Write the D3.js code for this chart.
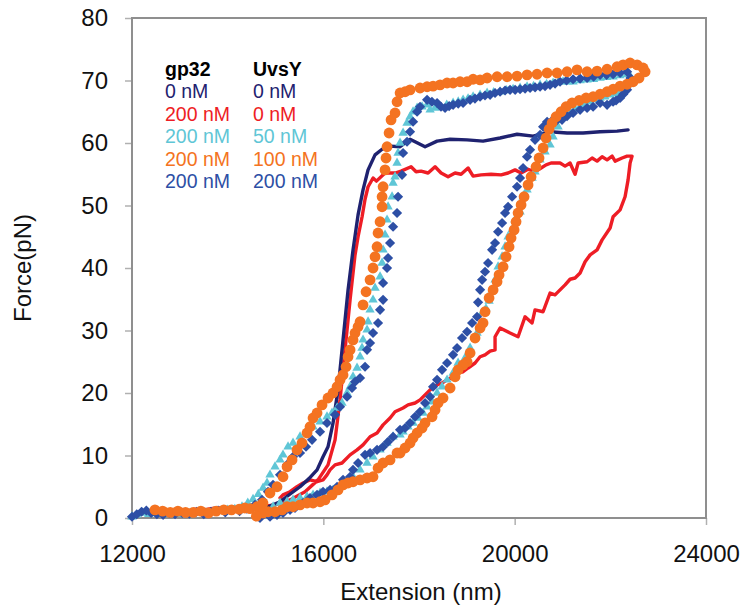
<!DOCTYPE html>
<html><head><meta charset="utf-8">
<script src="https://cdn.jsdelivr.net/npm/d3@7/dist/d3.min.js"></script>
<style>body{margin:0;background:#fff}svg{display:block}</style>
</head><body><svg id="c" width="750" height="608"></svg>
<script>
const xTicks=[12000,16000,20000,24000];
const yTicks=[0,10,20,30,40,50,60,70,80];
const xTitle="Extension (nm)";
const yTitle="Force(pN)";
const legendHeader=["gp32","UvsY"];
const gp32Conc=["0 nM","200 nM","200 nM","200 nM","200 nM"];
const uvsyConc=["0 nM","0 nM","50 nM","100 nM","200 nM"];
const seriesColors=["#1f2270","#ee1d25","#5fc6d6","#f47321","#2d4fa5"];

// gp32 0 nM / UvsY 0 nM (line)
const sNavy=[[14600,1.2],[14850,1.8],[15095,2.6],[15300,3.8],[15513,5.0],[15700,6.3],[15869,7.7],[15994,9.8],[16098,11.4],[16203,15.2],[16307,20.5],[16412,28.5],[16517,36.5],[16621,42.9],[16726,48.5],[16830,52.5],[16935,55.7],[17081,58.1],[17228,59.0],[17395,59.5],[17604,59.4],[17813,60.6],[18127,59.4],[18378,60.3],[18650,60.6],[19005,60.5],[19339,60.3],[19695,60.8],[20050,61.4],[20385,61.1],[20740,61.8],[21096,61.6],[21430,61.6],[21786,61.8],[22141,61.9],[22371,62.1]];
// gp32 200 nM / UvsY 0 nM (line)
const sRed=[[13300,1.4],[13500,1.3],[13750,1.6],[14050,1.6],[14350,1.7],[14676,1.8],[14990,2.1],[15304,2.9],[15618,4.2],[15889,6.1],[16098,8.5],[16245,12.5],[16349,18.9],[16454,26.9],[16559,34.9],[16663,42.1],[16726,45.0],[16810,48.2],[16872,51.0],[16935,53.0],[17040,54.4],[17110,53.9],[17290,55.2],[17500,55.2],[17625,55.5],[17834,56.2],[17939,55.4],[18043,55.5],[18190,55.2],[18336,56.2],[18462,55.2],[18608,54.6],[18754,55.2],[18880,55.0],[19026,56.0],[19131,54.7],[19298,54.9],[19507,55.0],[19716,54.9],[19862,55.2],[20008,55.7],[20134,55.2],[20280,55.8],[20427,55.4],[20552,56.0],[20657,56.5],[20761,56.8],[20949,56.8],[21054,56.3],[21158,56.8],[21263,55.0],[21326,56.8],[21514,57.0],[21619,57.6],[21723,57.1],[21828,57.8],[21932,57.3],[22037,57.9],[22100,57.1],[22246,57.6],[22350,57.9],[22455,57.9],
[22413,56.8],[22371,54.1],[22308,51.4],[22204,49.3],[22058,48.2],[21995,46.4],[21828,44.5],[21723,42.9],[21577,42.1],[21472,41.0],[21368,39.2],[21263,38.4],[21158,38.2],[21054,37.3],[20949,36.5],[20844,35.7],[20740,36.0],[20594,33.0],[20426,33.3],[20364,31.2],[20217,32.2],[20071,29.0],[19904,29.6],[19695,30.4],[19590,29.0],[19590,26.9],[19486,26.7],[19381,26.1],[19277,25.8],[19172,24.8],[19026,24.0],[18922,23.4],[18796,23.2],[18712,22.6],[18587,22.1],[18482,21.6],[18378,21.3],[18232,20.5],[18127,19.7],[18022,18.9],[17918,18.4],[17771,18.1],[17667,17.6],[17499,17.0],[17395,16.0],[17249,14.9],[17123,13.6],[16977,13.0],[16830,11.7],[16705,10.9],[16559,10.1],[16391,8.8],[16245,8.5],[16140,7.7],[16077,6.9],[15994,6.1],[15869,5.8],[15722,6.1],[15576,5.6],[15450,5.0],[15304,4.2],[15157,3.7],[15095,3.2]];
// gp32 200 nM / UvsY 50 nM (triangles)
const sCyan=[[12000,0.2],[12100,0.5],[12220,0.8],[12350,0.6],[12500,0.8],[12650,0.6],[12800,0.8],[12950,0.6],[13100,0.8],[13250,0.8],[13400,1.0],[13550,0.8],[13700,1.0],[13850,1.1],[14000,1.3],[14150,1.4],[14300,1.8],[14420,2.4],[14530,3.0],[14640,3.8],[14740,4.8],
[14823,5.6],[14885,6.9],[14990,8.2],[15095,9.3],[15157,10.1],[15262,11.4],[15367,12.0],[15513,13.0],[15659,14.1],[15785,14.6],[15931,15.4],[16077,16.2],[16182,16.8],[16287,17.6],[16391,18.4],[16496,20.0],[16559,21.0],[16621,22.6],[16705,24.0],[16768,25.8],[16809,27.2],[16830,28.5],[16914,30.1],[16935,31.4],[16977,33.3],[17039,34.9],[17081,36.8],[17186,38.6],[17228,40.8],[17249,42.9],[17290,45.3],[17332,47.7],[17353,49.8],[17437,51.4],[17458,53.6],[17499,54.6],[17541,56.8],[17562,58.4],[17604,60.0],[17667,61.6],[17750,63.2],[17813,64.2],[17876,65.0],[17960,65.6],[18064,65.8],[18169,66.1],
[18232,65.3],[18336,65.6],[18441,65.8],[18580,66.1],[18713,66.4],[18820,66.6],[18922,66.9],[19026,67.1],[19131,67.4],[19277,67.7],[19424,68.0],[19560,68.1],[19695,68.2],[19830,68.4],[19967,68.6],[20113,68.8],[20259,69.0],[20395,69.1],[20531,69.3],[20667,69.4],[20803,69.6],[20907,69.7],[21012,69.8],[21117,69.8],[21221,69.8],[21368,70.0],[21514,70.1],[21650,70.2],[21786,70.4],[21922,70.5],[22058,70.6],[22204,70.8],[22350,71.0],[22420,70.6],
[22350,69.3],[22270,68.6],[22204,68.2],[22100,67.9],[21995,67.7],[21890,67.4],[21786,67.2],[21680,66.9],[21577,66.6],[21470,66.2],[21368,65.8],[21263,65.4],[21158,65.0],[21012,64.2],[20907,62.6],[20803,61.0],[20740,59.7],[20635,58.6],[20531,57.3],[20426,55.4],[20364,54.4],[20259,52.5],[20176,51.4],[20113,49.0],[20008,47.7],[19946,46.1],[19862,45.0],[19799,43.4],[19737,41.8],[19653,40.2],[19590,38.1],[19528,36.5],[19465,34.7],[19400,33.5],[19319,32.8],[19214,29.6],[19068,27.2],[18963,25.6],[18817,24.8],[18712,23.2],[18587,22.1],[18482,21.0],[18378,20.0],[18273,18.6],[18169,17.8],[18085,16.8],[17980,16.0],[17876,15.2],[17771,14.6],[17667,13.8],[17604,13.3],[17458,13.0],[17332,12.0],[17186,10.9],[17039,9.8],[16914,8.8],[16768,7.7],[16621,6.6],[16496,5.8],[16349,5.0],[16203,4.5],[16077,4.2],[15931,4.0],[15785,3.7],[15659,3.4],[15513,3.2],[15367,2.9],[15241,2.6],[15095,2.4],[14950,1.8],[14800,1.3]];
// gp32 200 nM / UvsY 100 nM (circles)
const sOrange=[[12480,1.3],[12640,1.1],[12800,0.9],[12960,1.1],[13120,0.9],[13280,0.9],[13440,1.1],[13600,0.8],[13760,1.1],[13920,1.3],[14080,1.3],[14240,1.4],[14360,1.6],
[14467,1.5],[14614,1.8],[14739,2.4],[14885,4.0],[15032,5.0],[15157,6.6],[15241,8.2],[15346,9.3],[15450,10.9],[15555,12.0],[15659,13.6],[15722,14.6],[15785,16.0],[15869,16.8],[15973,18.1],[16098,19.2],[16203,20.0],[16287,21.0],[16349,22.1],[16412,22.9],[16475,24.2],[16517,25.8],[16559,26.9],[16621,28.5],[16663,29.6],[16726,30.6],[16768,31.4],[16830,34.1],[16893,36.2],[16977,38.1],[17039,40.0],[17081,41.8],[17123,43.4],[17144,45.6],[17186,47.4],[17228,49.8],[17228,51.4],[17249,53.0],[17290,55.7],[17311,57.6],[17332,59.4],[17374,61.6],[17416,63.7],[17499,64.8],[17541,66.6],[17604,68.0],[17709,68.2],
[17813,68.5],[18022,68.8],[18169,69.0],[18294,69.1],[18440,69.3],[18587,69.6],[18712,69.6],[18859,69.8],[19005,69.8],[19131,70.2],[19277,70.1],[19424,70.4],[19633,70.6],[19842,70.6],[20050,70.7],[20259,70.9],[20468,71.0],[20678,71.2],[20887,71.2],[21096,71.4],[21305,71.7],[21514,71.4],[21723,71.5],[21932,71.8],[22141,72.2],[22267,72.5],[22413,72.8],[22560,72.5],[22685,72.0],[22727,71.4],
[22600,70.4],[22476,69.8],[22350,69.4],[22204,69.1],[22058,68.6],[21932,68.2],[21786,67.8],[21640,67.4],[21493,67.2],[21347,66.8],[21200,66.4],[21075,65.8],[20970,65.0],[20866,64.2],[20782,63.2],[20719,62.2],[20656,60.8],[20594,59.2],[20510,57.6],[20447,56.2],[20343,54.6],[20280,53.3],[20197,51.4],[20134,50.1],[20071,48.8],[20029,47.4],[19988,46.1],[19925,44.8],[19883,43.4],[19820,41.8],[19758,40.2],[19674,38.9],[19632,37.8],[19549,36.5],[19465,35.2],[19381,33.0],[19339,31.2],[19277,30.4],[19172,28.8],[19068,26.4],[19005,25.0],[18922,24.5],[18817,23.7],[18754,22.6],[18650,20.8],[18503,19.2],[18399,18.4],[18336,17.3],[18273,16.2],[18127,15.2],[18064,14.4],[17960,13.6],[17876,12.8],[17813,12.0],[17709,11.2],[17604,10.4],[17541,10.4],[17395,9.3],[17249,8.8],[17144,8.0],[17039,6.6],[16914,6.4],[16768,6.1],[16621,5.8],[16517,5.6],[16412,5.3],[16307,4.5],[16182,3.7],[16036,2.9],[15931,2.6],[15785,2.4],[15659,2.4],[15513,2.1],[15367,1.8],[15241,1.8],[15137,1.3],[14990,1.0],[14844,1.0],[14739,0.8],[14600,0.3]];
// gp32 200 nM / UvsY 200 nM (diamonds)
const sBlue=[[12000,0.2],[12100,0.6],[12200,1.0],[12300,1.2],[12400,0.8],[12520,0.6],[12650,0.5],[12780,0.8],[12900,0.6],[13050,0.8],[13200,0.7],[13350,1.0],[13500,0.6],[13650,1.0],[13800,1.2],[13950,0.9],[14100,1.3],[14250,1.1],[14400,1.5],
[14572,2.1],[14718,2.9],[14843,4.2],[14948,5.3],[15095,6.9],[15241,8.5],[15367,9.8],[15513,10.4],[15638,11.4],[15764,12.5],[15931,13.8],[16077,15.2],[16245,16.5],[16349,17.8],[16496,19.4],[16600,20.8],[16663,21.8],[16768,22.4],[16872,24.2],[16914,26.9],[16977,28.0],[17039,29.6],[17144,31.2],[17186,33.3],[17249,34.9],[17249,37.6],[17332,40.0],[17353,41.6],[17395,44.0],[17458,46.6],[17541,48.8],[17562,51.4],[17646,54.9],[17667,58.4],[17750,60.2],[17813,61.8],[17876,63.4],[17960,65.0],
[18022,65.8],[18169,66.9],[18270,66.6],[18378,66.4],[18460,65.8],[18545,65.6],[18630,65.9],[18713,66.1],[18820,66.3],[18922,66.4],[19068,66.9],[19170,67.1],[19277,67.4],[19380,67.6],[19486,67.7],[19590,68.0],[19695,68.2],[19800,68.4],[19904,68.5],[20010,68.5],[20113,68.6],[20218,68.7],[20322,68.8],[20427,68.9],[20531,69.0],[20636,69.1],[20740,69.3],[20845,69.5],[20949,69.8],[21085,70.0],[21221,70.2],[21368,70.3],[21514,70.4],[21650,70.6],[21786,70.9],[21922,70.9],[22058,71.0],[22204,71.2],[22350,71.4],[22420,70.4],
[22350,68.5],[22270,67.8],[22204,67.2],[22120,66.8],[22058,66.6],[21932,66.1],[21786,66.4],[21640,65.8],[21514,65.6],[21368,65.3],[21221,64.8],[21096,64.3],[20990,63.7],[20880,63.6],[20803,63.7],[20678,63.4],[20594,62.6],[20531,61.3],[20426,60.5],[20322,58.9],[20259,57.8],[20176,56.0],[20113,54.4],[20050,53.0],[19946,51.4],[19862,49.8],[19799,48.8],[19737,47.2],[19653,45.8],[19590,44.0],[19528,42.9],[19444,40.8],[19381,39.4],[19319,38.1],[19277,36.5],[19235,34.5],[19214,32.2],[19110,31.2],[19005,29.8],[18900,28.8],[18796,27.2],[18712,26.1],[18587,24.8],[18482,23.7],[18378,22.1],[18294,21.0],[18231,19.4],[18127,18.4],[18022,17.0],[17918,16.2],[17813,15.2],[17709,14.4],[17604,14.1],[17458,13.0],[17353,12.2],[17249,11.4],[17123,10.9],[16977,10.4],[16872,10.1],[16726,8.8],[16621,7.7],[16559,6.6],[16412,6.1],[16287,5.0],[16141,4.5],[15994,4.2],[15869,3.7],[15722,3.2],[15576,2.4],[15408,1.6],[15304,1.3],[15157,0.8],[15032,0.5],[14885,0.2],[14676,0.0]];

const FONT="'Liberation Sans', Arial, Helvetica, sans-serif";
const svg=d3.select("#c");
svg.append("rect").attr("width",750).attr("height",608).attr("fill","#fff");
const x=d3.scaleLinear().domain([12000,24000]).range([132,706]);
const y=d3.scaleLinear().domain([0,80]).range([518,18]);

// axes
const gy=svg.append("g").attr("transform","translate(132,0)")
  .call(d3.axisLeft(y).tickValues(yTicks).tickSize(7).tickPadding(17).tickFormat(d3.format("d")));
const gx=svg.append("g").attr("transform","translate(0,518)")
  .call(d3.axisBottom(x).tickValues(xTicks).tickSize(7).tickPadding(20).tickFormat(d=>String(d)));
[gx,gy].forEach(g=>{
  g.select(".domain").remove();
  g.selectAll(".tick line").attr("stroke","#b0b0b0").attr("stroke-width",1.5);
  g.selectAll(".tick text").attr("fill","#111").style("font-family",FONT).style("font-size","24px");
});
// frame
svg.append("rect").attr("x",x(12000)).attr("y",y(80)).attr("width",x(24000)-x(12000)).attr("height",y(0)-y(80))
  .attr("fill","none").attr("stroke","#8f8f8f").attr("stroke-width",2);

// titles
svg.append("text").attr("x",(x(12000)+x(24000))/2+2).attr("y",600).attr("text-anchor","middle")
  .style("font-family",FONT).style("font-size","24px").attr("fill","#111").text(xTitle);
svg.append("text").attr("transform",`translate(31,${(y(0)+y(80))/2}) rotate(-90)`).attr("text-anchor","middle")
  .style("font-family",FONT).style("font-size","24px").attr("fill","#111").text(yTitle);

// lines
const line=d3.line().x(d=>x(d[0])).y(d=>y(d[1]));
[[sRed,1],[sNavy,0]].forEach(([s,i])=>{
  svg.append("path").datum(s).attr("d",line).attr("fill","none").attr("stroke",seriesColors[i])
    .attr("stroke-width",3.4).attr("stroke-linejoin","round").attr("stroke-linecap","round");
});

// markers
function drawMarkers(s,i,type,size,rot){
  svg.append("g").selectAll("path").data(s).join("path")
    .attr("d",d3.symbol().type(type).size(size))
    .attr("transform",d=>`translate(${x(d[0])},${y(d[1])})${rot?" rotate(45)":""}`)
    .attr("fill",seriesColors[i]);
}
drawMarkers(sCyan,2,d3.symbolTriangle,38,false);
drawMarkers(sBlue,4,d3.symbolSquare,52,true);
drawMarkers(sOrange,3,d3.symbolCircle,Math.PI*5.4*5.4,false);

// legend
const lg=svg.append("g").style("font-family",FONT).style("font-size","19.5px");
lg.append("text").attr("x",165).attr("y",76).attr("font-weight","bold").attr("fill","#000").text(legendHeader[0]);
lg.append("text").attr("x",253).attr("y",76).attr("font-weight","bold").attr("fill","#000").text(legendHeader[1]);
gp32Conc.forEach((t,i)=>{
  lg.append("text").attr("x",165).attr("y",98+i*22.5).attr("fill",seriesColors[i]).text(t);
  lg.append("text").attr("x",253).attr("y",98+i*22.5).attr("fill",seriesColors[i]).text(uvsyConc[i]);
});
</script></body></html>
